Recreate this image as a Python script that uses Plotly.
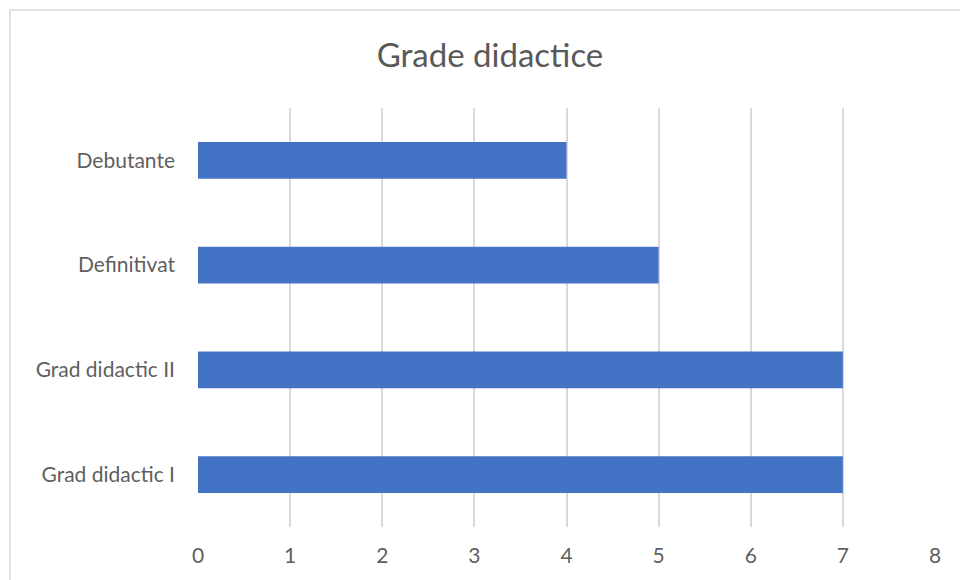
import plotly.graph_objects as go

categories = ["Debutante", "Definitivat", "Grad didactic II", "Grad didactic I"]
values = [4, 5, 7, 7]
x_ticks = [0, 1, 2, 3, 4, 5, 6, 7, 8]

W, H = 960, 580
L, R, T, B = 198, 25, 108, 53
pw, ph = W - L - R, H - T - B

fig = go.Figure(go.Bar(
    x=values, y=categories, orientation="h",
    marker=dict(color="#4472C4", line=dict(width=0)),
    hoverinfo="x+y",
))

font_family = "Lato, 'Open Sans', sans-serif"

fig.update_layout(
    width=W, height=H,
    margin=dict(l=L, r=R, t=T, b=B, pad=0),
    paper_bgcolor="white", plot_bgcolor="white",
    bargap=0.65,
    showlegend=False,
    title=dict(text="Grade didactice", x=(490 - L) / pw, xref="paper",
               xanchor="center", y=1 - 55 / H, yanchor="middle",
               font=dict(family=font_family, size=33, color="#595959")),
    font=dict(family=font_family, size=21, color="#595959"),
    xaxis=dict(range=[0, 8], tickvals=x_ticks, showgrid=True, gridcolor="#d9d9d9",
               gridwidth=1.5, zeroline=False, showline=False, ticks="",
               ticklabelstandoff=14, tickfont=dict(size=21, color="#5f5f5f")),
    yaxis=dict(categoryorder="array", categoryarray=categories, autorange="reversed",
               showgrid=False, zeroline=False, showline=False, ticks="",
               ticklabelstandoff=22, tickfont=dict(size=21, color="#5f5f5f")),
)

fig.add_shape(type="rect", xref="paper", yref="paper",
              x0=(10 - L) / pw, x1=(W + 20 - L) / pw,
              y0=-(B + 20) / ph, y1=1 + (T - 10) / ph,
              line=dict(color="#d9d9d9", width=1.5), fillcolor="rgba(0,0,0,0)", layer="below")

fig.write_html("out.html", config={"displayModeBar": False},
               post_script="document.body.style.margin='0';document.body.style.overflow='hidden';")
